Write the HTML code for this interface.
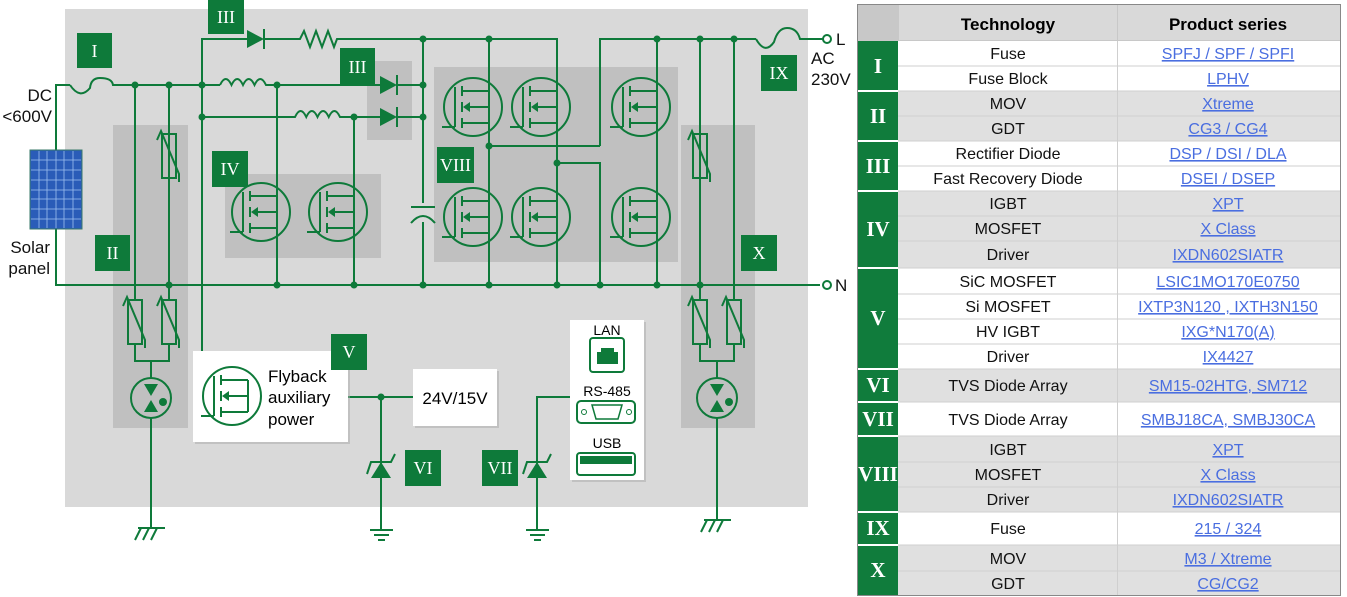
<!DOCTYPE html>
<html><head><meta charset="utf-8"><style>
html,body{margin:0;padding:0;background:#fff;}
svg{display:block;}
text{font-family:"Liberation Sans",sans-serif;}
.g{stroke:#0e7a3a;stroke-width:2;fill:none;}
.gf{fill:#0e7a3a;}
.lbl text{font-family:"Liberation Serif",serif;fill:#fff;font-size:18px;text-anchor:middle;}
.t text{font-size:16px;text-anchor:middle;fill:#111;}
.lk text{font-size:16px;text-anchor:middle;fill:#4a6ee0;text-decoration:underline;}
.rn text{font-family:"Liberation Serif",serif;fill:#fff;font-size:21px;font-weight:bold;text-anchor:middle;}
</style></head><body>
<svg width="1347" height="597" viewBox="0 0 1347 597" xmlns="http://www.w3.org/2000/svg">
<defs>
<g id="mos" class="g">
 <circle cx="0" cy="0" r="29"/>
 <path d="M-31,20 H-18 M-18,-20 V20 M-11,-21 V-11 M-11,-5 V5 M-11,11 V21 M-11,-16 H16 M-11,16 H16 M16,-16 V16 M16,0 H-4"/>
 <path d="M-10,0 L-3,-5 L-3,5 Z" class="gf" stroke="none"/>
</g>
<g id="var">
 <rect x="-7" y="-22" width="14" height="44" class="g" fill="none"/>
 <path d="M-12,-16 L-8,-25 L10,18 L10,26" class="g"/>
</g>
<g id="gdt">
 <circle r="20" class="g"/>
 <path d="M-7,-14 L7,-14 L0,-2 Z M-7,14 L7,14 L0,2 Z" class="gf"/>
 <circle cx="12" cy="4" r="4" class="gf"/>
</g>
<g id="tvs">
 <path d="M-10,12 L10,12 L0,-4 Z" class="gf"/>
 <path d="M-14,8 L-10,-4 H10 L14,-12" class="g"/>
</g>
</defs>
<rect x="65" y="9" width="743" height="498" fill="#d9d9d9"/>
<rect x="113" y="125" width="75" height="303" fill="#c0c0c0"/>
<rect x="225" y="174" width="156" height="84" fill="#c0c0c0"/>
<rect x="367" y="61" width="45" height="79" fill="#c0c0c0"/>
<rect x="434" y="67" width="244" height="195" fill="#c0c0c0"/>
<rect x="681" y="125" width="74" height="303" fill="#c0c0c0"/>

<g class="g">
 <path d="M70,85 H56 V285 H820"/>
 <path d="M70,85 Q80,100 90,88 Q91,78 100,78 Q112,78 113,85 H220"/>
 <path d="M220,85 q5.75,-12 11.5,0 q5.75,-12 11.5,0 q5.75,-12 11.5,0 q5.75,-12 11.5,0 H380"/>
 <path d="M397,85 H423"/>
 <path d="M202,117 H295 q5.6,-12 11.25,0 q5.6,-12 11.25,0 q5.6,-12 11.25,0 q5.6,-12 11.25,0 H380"/>
 <path d="M397,117 H423"/>
 <path d="M202,351 V39 H247 M264,39 H300 l4,-8 l6,16 l6,-16 l6,16 l6,-16 l6,16 l3,-8 H557 V285"/>
 <path d="M423,39 V203 M423,222 V285"/>
 <path d="M411,207 H435 M411,223 Q423,209 435,223"/>
 <path d="M135,85 V300 M169,85 V300"/>
 <path d="M277,85 V285 M354,117 V285"/>
 <path d="M489,39 V285 M489,146 H600 M557,163 H600 V285 M600,146 V39 H756 M657,39 V285"/>
 <path d="M756,39 Q765,55 774,42 Q778,28 787,28 Q797,28 800,39 H823"/>
 <path d="M700,39 V300 M734,39 V300"/>
 <path d="M135,345 V361 H169 V345 M151,361 V378 M151,418 V528"/>
 <path d="M700,345 V361 H734 V345 M717,361 V378 M717,418 V520"/>
 <path d="M138,528 H165 M135,540 L141,528 M143,540 L149,528 M151,540 L157,528" />
 <path d="M704,520 H731 M701,532 L707,520 M709,532 L715,520 M717,532 L723,520"/>
 <path d="M348,397 H413 M381,397 V530 M370,530 H393 M374,535 H389 M378,540 H385"/>
 <path d="M570,397 H537 V530 M526,530 H549 M530,535 H545 M534,540 H541"/>
</g>
<circle cx="827" cy="39" r="4" fill="#fff" class="g"/>
<circle cx="827" cy="285" r="4" fill="#fff" class="g"/>
<path d="M247,30 L264,39 L247,48 Z M380,76 L397,85 L380,94 Z M380,108 L397,117 L380,126 Z" class="gf"/>
<path d="M264,29 V49 M397,75 V95 M397,107 V127" class="g"/>
<g class="gf">
 <circle cx="135" cy="85" r="3.5"/><circle cx="169" cy="85" r="3.5"/><circle cx="202" cy="85" r="3.5"/><circle cx="277" cy="85" r="3.5"/>
 <circle cx="202" cy="117" r="3.5"/><circle cx="354" cy="117" r="3.5"/><circle cx="423" cy="85" r="3.5"/><circle cx="423" cy="117" r="3.5"/><circle cx="423" cy="39" r="3.5"/><circle cx="489" cy="39" r="3.5"/>
 <circle cx="657" cy="39" r="3.5"/><circle cx="700" cy="39" r="3.5"/><circle cx="734" cy="39" r="3.5"/>
 <circle cx="489" cy="146" r="3.5"/><circle cx="557" cy="163" r="3.5"/>
 <circle cx="169" cy="285" r="3.5"/><circle cx="277" cy="285" r="3.5"/><circle cx="354" cy="285" r="3.5"/><circle cx="423" cy="285" r="3.5"/><circle cx="489" cy="285" r="3.5"/><circle cx="557" cy="285" r="3.5"/><circle cx="600" cy="285" r="3.5"/><circle cx="657" cy="285" r="3.5"/><circle cx="700" cy="285" r="3.5"/>
 <circle cx="381" cy="397" r="3.5"/>
</g>
<use href="#var" x="169" y="156"/><use href="#var" x="135" y="322"/><use href="#var" x="169" y="322"/>
<use href="#var" x="700" y="156"/><use href="#var" x="700" y="322"/><use href="#var" x="734" y="322"/>
<use href="#gdt" x="151" y="398"/><use href="#gdt" x="717" y="398"/>
<use href="#mos" x="261" y="212"/><use href="#mos" x="338" y="212"/>
<use href="#mos" x="473" y="107"/><use href="#mos" x="541" y="107"/><use href="#mos" x="641" y="107"/>
<use href="#mos" x="473" y="217"/><use href="#mos" x="541" y="217"/><use href="#mos" x="641" y="217"/>
<rect x="195" y="353" width="155" height="91" fill="#aaa" opacity="0.5"/>
<rect x="193" y="351" width="155" height="91" fill="#fff"/>
<use href="#mos" x="232" y="396"/>
<text x="268" y="382" style="font-size:17px">Flyback</text>
<text x="268" y="403" style="font-size:17px">auxiliary</text>
<text x="268" y="425" style="font-size:17px">power</text>
<rect x="415" y="371" width="84" height="57" fill="#aaa" opacity="0.5"/>
<rect x="413" y="369" width="84" height="57" fill="#fff"/>
<text x="455" y="404" style="font-size:17px;text-anchor:middle">24V/15V</text>
<use href="#tvs" x="381" y="466"/><use href="#tvs" x="537" y="466"/>
<rect x="572" y="322" width="74" height="160" fill="#aaa" opacity="0.5"/>
<rect x="570" y="320" width="74" height="160" fill="#fff"/>
<text x="607" y="335" style="font-size:14px;text-anchor:middle">LAN</text>
<rect x="590" y="338" width="34" height="34" rx="3" class="g"/>
<path d="M597,364 V352 H601 V348 H614 V352 H618 V364 Z" class="gf"/>
<text x="607" y="396" style="font-size:14px;text-anchor:middle">RS-485</text>
<rect x="577" y="401" width="58" height="22" rx="4" class="g"/>
<path d="M592,405 H622 L618,419 H596 Z" class="g" style="stroke-width:1.5"/>
<circle cx="584" cy="412" r="2.5" class="g" style="stroke-width:1"/><circle cx="629" cy="412" r="2.5" class="g" style="stroke-width:1"/>
<text x="607" y="448" style="font-size:14px;text-anchor:middle">USB</text>
<rect x="577" y="453" width="58" height="22" rx="3" class="g"/>
<rect x="580" y="456" width="52" height="8" class="gf"/>
<rect x="30" y="150" width="52" height="79" fill="#2a5cb8" stroke="#3a7a6a" stroke-width="1"/>
<g stroke="#9fc0f0" stroke-width="0.8">
 <path d="M39,151 V228 M47,151 V228 M56,151 V228 M64,151 V228 M73,151 V228"/>
 <path d="M31,160 H81 M31,170 H81 M31,180 H81 M31,190 H81 M31,199 H81 M31,209 H81 M31,219 H81"/>
</g>
<g style="font-size:17px;fill:#111">
 <text x="52" y="101" text-anchor="end">DC</text>
 <text x="52" y="122" text-anchor="end">&lt;600V</text>
 <text x="50" y="253" text-anchor="end">Solar</text>
 <text x="50" y="274" text-anchor="end">panel</text>
 <text x="836" y="45">L</text>
 <text x="811" y="64">AC</text>
 <text x="811" y="85">230V</text>
 <text x="835" y="291">N</text>
</g>
<g class="gf">
 <rect x="77" y="33" width="35" height="35"/><rect x="95" y="235" width="35" height="36"/>
 <rect x="208" y="0" width="36" height="34"/><rect x="340" y="48" width="35" height="37"/>
 <rect x="212" y="151" width="36" height="36"/><rect x="437" y="147" width="37" height="36"/>
 <rect x="761" y="55" width="36" height="36"/><rect x="741" y="235" width="36" height="36"/>
 <rect x="331" y="334" width="36" height="36"/><rect x="405" y="450" width="36" height="36"/><rect x="482" y="450" width="36" height="36"/>
</g>
<g class="lbl">
 <text x="94.5" y="57">I</text><text x="112.5" y="259">II</text><text x="226" y="23">III</text><text x="357.5" y="73">III</text>
 <text x="230" y="175">IV</text><text x="455.5" y="171">VIII</text><text x="779" y="79">IX</text><text x="759" y="259">X</text>
 <text x="349" y="358">V</text><text x="423" y="474">VI</text><text x="500" y="474">VII</text>
</g>

<rect x="857" y="4" width="484" height="592" fill="#888"/>
<rect x="858" y="5" width="482" height="36" fill="#c8c8c8"/>
<rect x="899" y="5" width="218" height="35" fill="#d9d9d9"/>
<rect x="1118" y="5" width="222" height="35" fill="#d9d9d9"/>
<text x="1008" y="30" style="font-size:17px;font-weight:bold;text-anchor:middle">Technology</text>
<text x="1228" y="30" style="font-size:17px;font-weight:bold;text-anchor:middle">Product series</text>
<g>
 <rect x="858" y="41" width="482" height="50" fill="#fff"/>
 <rect x="858" y="91" width="482" height="50" fill="#e0e0e0"/>
 <rect x="858" y="141" width="482" height="50" fill="#fff"/>
 <rect x="858" y="191" width="482" height="77" fill="#e0e0e0"/>
 <rect x="858" y="268" width="482" height="101" fill="#fff"/>
 <rect x="858" y="369" width="482" height="33" fill="#e0e0e0"/>
 <rect x="858" y="402" width="482" height="34" fill="#fff"/>
 <rect x="858" y="436" width="482" height="76" fill="#e0e0e0"/>
 <rect x="858" y="512" width="482" height="33" fill="#fff"/>
 <rect x="858" y="545" width="482" height="50" fill="#e0e0e0"/>
</g>
<g stroke="#cfcfcf" stroke-width="1">
 <path d="M898,66 H1340 M898,116 H1340 M898,166 H1340 M898,216 H1340 M898,241 H1340 M898,294 H1340 M898,319 H1340 M898,344 H1340 M898,462 H1340 M898,487 H1340 M898,571 H1340"/>
 <path d="M898,91 H1340 M898,141 H1340 M898,191 H1340 M898,268 H1340 M898,369 H1340 M898,402 H1340 M898,436 H1340 M898,512 H1340 M898,545 H1340"/>
 <path d="M1117.5,41 V595"/>
</g>
<rect x="858" y="41" width="40" height="554" fill="#107c3c"/>
<g stroke="#fff" stroke-width="2">
 <path d="M858,91 H898 M858,141 H898 M858,191 H898 M858,268 H898 M858,369 H898 M858,402 H898 M858,436 H898 M858,512 H898 M858,545 H898"/>
</g>
<g class="rn">
 <text x="878" y="73">I</text><text x="878" y="123">II</text><text x="878" y="173">III</text><text x="878" y="236">IV</text>
 <text x="878" y="325">V</text><text x="878" y="392">VI</text><text x="878" y="426">VII</text><text x="878" y="481">VIII</text>
 <text x="878" y="535">IX</text><text x="878" y="577">X</text>
</g>
<g class="t">
 <text x="1008" y="59">Fuse</text><text x="1008" y="84">Fuse Block</text><text x="1008" y="109">MOV</text><text x="1008" y="134">GDT</text>
 <text x="1008" y="159">Rectifier Diode</text><text x="1008" y="184">Fast Recovery Diode</text><text x="1008" y="209">IGBT</text>
 <text x="1008" y="234">MOSFET</text><text x="1008" y="260">Driver</text><text x="1008" y="287">SiC MOSFET</text>
 <text x="1008" y="312">Si MOSFET</text><text x="1008" y="337">HV IGBT</text><text x="1008" y="362">Driver</text>
 <text x="1008" y="391">TVS Diode Array</text><text x="1008" y="425">TVS Diode Array</text>
 <text x="1008" y="455">IGBT</text><text x="1008" y="480">MOSFET</text><text x="1008" y="505">Driver</text>
 <text x="1008" y="534">Fuse</text><text x="1008" y="564">MOV</text><text x="1008" y="589">GDT</text>
</g>
<g class="lk">
 <text x="1228" y="59">SPFJ / SPF / SPFI</text><text x="1228" y="84">LPHV</text><text x="1228" y="109">Xtreme</text><text x="1228" y="134">CG3 / CG4</text>
 <text x="1228" y="159">DSP / DSI / DLA</text><text x="1228" y="184">DSEI / DSEP</text><text x="1228" y="209">XPT</text>
 <text x="1228" y="234">X Class</text><text x="1228" y="260">IXDN602SIATR</text><text x="1228" y="287">LSIC1MO170E0750</text>
 <text x="1228" y="312">IXTP3N120 , IXTH3N150</text><text x="1228" y="337">IXG*N170(A)</text><text x="1228" y="362">IX4427</text>
 <text x="1228" y="391">SM15-02HTG, SM712</text><text x="1228" y="425">SMBJ18CA, SMBJ30CA</text>
 <text x="1228" y="455">XPT</text><text x="1228" y="480">X Class</text><text x="1228" y="505">IXDN602SIATR</text>
 <text x="1228" y="534">215 / 324</text><text x="1228" y="564">M3 / Xtreme</text><text x="1228" y="589">CG/CG2</text>
</g>
</svg>
</body></html>
